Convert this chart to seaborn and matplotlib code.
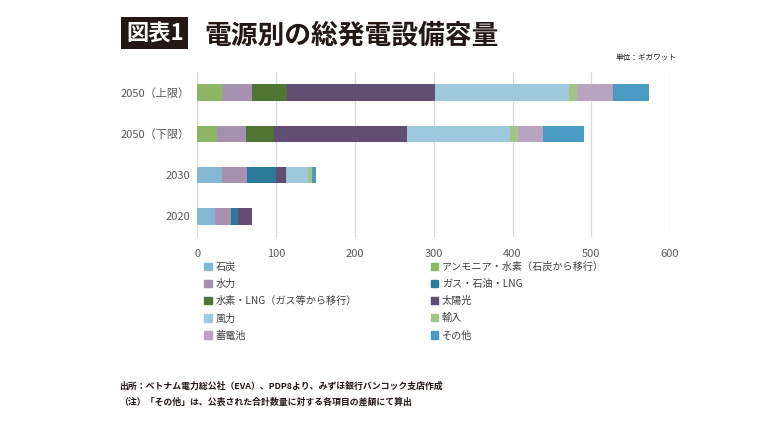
import numpy as np
import pandas as pd
from matplotlib import pyplot as plt
from matplotlib.patches import Patch
import seaborn as sns

# data (GW)
years = ['2050（上限）', '2050（下限）', '2030', '2020']
sources = ['石炭', 'アンモニア・水素（石炭から移行）', '水力', 'ガス・石油・LNG',
           '水素・LNG（ガス等から移行）', '太陽光', '風力', '輸入', '蓄電池', 'その他']
coal = [0, 0, 30.7, 22.3]
ammonia = [32.6, 25.3, 0, 0]
hydro = [36.4, 36.9, 31.8, 20.0]
gas = [0, 0, 37.2, 9.5]
hydrogen = [44.7, 35.4, 0, 0]
solar = [188.5, 168.1, 12.7, 16.8]
wind = [169.1, 130.6, 27.6, 0.6]
imports = [11.2, 11.2, 5.0, 0]
storage = [45.2, 30.6, 0, 0]
other = [45.7, 52.5, 5.5, 0]

colors = ['#82b8d4', '#8db566', '#a590b0', '#2b7a9b', '#4f7533',
          '#634e73', '#9ec9dd', '#a2c487', '#b8a4c0', '#4a9bc4']

series = [coal, ammonia, hydro, gas, hydrogen, solar, wind, imports, storage, other]
df = pd.DataFrame(dict(zip(sources, series)), index=years)
cum = df.cumsum(axis=1)

sns.set_style('white')
plt.rcParams['font.family'] = ['Noto Sans CJK JP', 'DejaVu Sans']

fig = plt.figure(figsize=(7.8, 4.23), dpi=100)
ax = fig.add_axes([0.2532, 0.44, 0.6058, 0.39])

# stacked bars: draw cumulative totals from the last source back to the first
for i in reversed(range(len(sources))):
    sns.barplot(x=cum[sources[i]].values, y=years, color=colors[i], saturation=1,
                orient='h', width=0.4, linewidth=0, ax=ax, zorder=3)

ax.set_xlim(0, 600)
ax.set_xticks(range(0, 601, 100))
ax.grid(axis='x', color='#d9d9d9', lw=0.9, zorder=0)
ax.set_axisbelow(True)
sns.despine(ax=ax, left=True, bottom=True)
ax.tick_params(axis='both', length=0, labelsize=8, labelcolor='#595959')
ax.tick_params(axis='x', pad=9)
ax.tick_params(axis='y', pad=5.5)
ax.set_xlabel('')
ax.set_ylabel('')

# legend in two columns, row order like the reference
order = [0, 2, 4, 6, 8, 1, 3, 5, 7, 9]
handles = [Patch(color=colors[i], label=sources[i]) for i in order]
fig.legend(handles=handles, ncol=2, loc='upper left', bbox_to_anchor=(0.250, 0.403),
           frameon=False, fontsize=7.3, handlelength=0.75, handleheight=0.75,
           handletextpad=0.35, columnspacing=7.3, labelspacing=0.70,
           labelcolor='#404040')

# title block
fig.text(0.1615, 0.922, '図表1', fontsize=16, fontweight='bold', color='white',
         va='center', ha='left',
         bbox=dict(boxstyle='square,pad=0.22', fc='#231815', ec='none'))
fig.text(0.262, 0.915, '電源別の総発電設備容量', fontsize=19.3, fontweight='bold',
         color='#231815', va='center', ha='left')
fig.text(0.868, 0.862, '単位：ギガワット', fontsize=5.5, color='#231815',
         va='center', ha='right')

# footnotes
fig.text(0.153, 0.088, '出所：ベトナム電力総公社（EVA）、PDP8より、みずほ銀行バンコック支店作成',
         fontsize=6.4, fontweight='bold', color='#231815', va='center')
fig.text(0.153, 0.048, '（注）「その他」は、公表された合計数量に対する各項目の差額にて算出',
         fontsize=6.4, fontweight='bold', color='#231815', va='center')

plt.savefig('out.png', dpi=100)
